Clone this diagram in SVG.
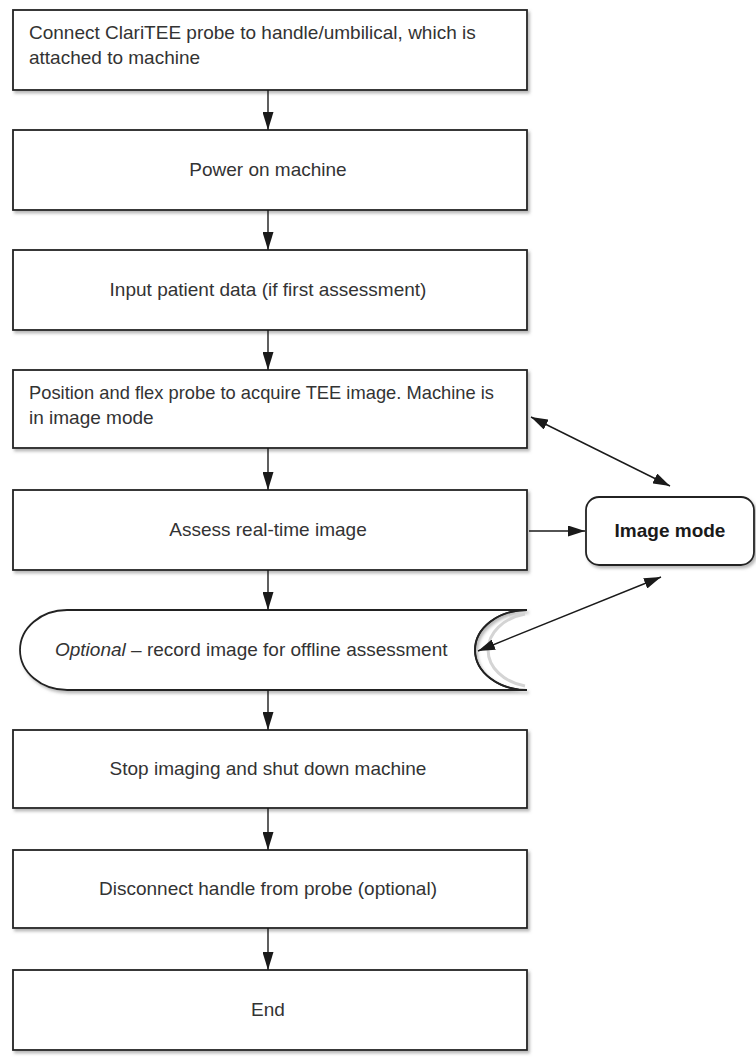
<svg xmlns="http://www.w3.org/2000/svg" width="756" height="1063" viewBox="0 0 756 1063">
<defs>
<filter id="sh" x="-5%" y="-5%" width="110%" height="120%">
<feDropShadow dx="2" dy="2.5" stdDeviation="1.5" flood-color="#888" flood-opacity="0.6"/>
</filter>
<marker id="ah" viewBox="0 0 17 11" refX="17" refY="5.5" markerWidth="17" markerHeight="11" markerUnits="userSpaceOnUse" orient="auto-start-reverse">
<path d="M0,0 L17,5.5 L0,11 Z" fill="#1a1a1a"/>
</marker>
<marker id="av" viewBox="0 0 11 18" refX="5.5" refY="18" markerWidth="11" markerHeight="18" markerUnits="userSpaceOnUse" orient="0">
<path d="M0,0 L11,0 L5.5,18 Z" fill="#1a1a1a"/>
</marker>
</defs>
<style>
.box{fill:#fff;stroke:#222;stroke-width:1.8;filter:url(#sh)}
.t{font-family:"Liberation Sans",Arial,sans-serif;font-size:19px;fill:#333}
.c{text-anchor:middle}
.b{font-weight:bold;fill:#1a1a1a}
.ln{stroke:#1a1a1a;stroke-width:1.4;fill:none}
</style>
<rect width="756" height="1063" fill="#fff"/>
<g id="n1"><rect class="box" x="13" y="10" width="514" height="80"/>
<text class="t" x="29" y="39">Connect ClariTEE probe to handle/umbilical, which is</text>
<text class="t" x="29" y="64">attached to machine</text></g>
<g id="n2"><rect class="box" x="13" y="130" width="514" height="80"/>
<text class="t c" x="268" y="176">Power on machine</text></g>
<g id="n3"><rect class="box" x="13" y="250" width="514" height="80"/>
<text class="t c" x="268" y="296">Input patient data (if first assessment)</text></g>
<g id="n4"><rect class="box" x="13" y="370" width="514" height="78"/>
<text class="t" x="29" y="399" textLength="465" lengthAdjust="spacingAndGlyphs">Position and flex probe to acquire TEE image. Machine is</text>
<text class="t" x="29" y="424">in image mode</text></g>
<g id="n5"><rect class="box" x="13" y="490" width="514" height="80"/>
<text class="t c" x="268" y="536">Assess real-time image</text></g>
<g id="n6"><path class="box" d="M67,610 H527 A52,40 0 0 0 527,690 H67 A47,40 0 0 1 67,610 Z"/>
<path d="M522,614 A48,37 0 0 0 522,686" fill="none" stroke="#d4d4d4" stroke-width="3" transform="translate(3,0)"/>
<path d="M527,610 A52,40 0 0 0 527,690" fill="none" stroke="#222" stroke-width="1.8"/>
<text class="t" x="55" y="656"><tspan font-style="italic">Optional</tspan>  – record image for offline assessment</text></g>
<g id="n7"><rect class="box" x="13" y="730" width="514" height="78"/>
<text class="t c" x="268" y="775">Stop imaging and shut down machine</text></g>
<g id="n8"><rect class="box" x="13" y="850" width="514" height="78"/>
<text class="t c" x="268" y="895">Disconnect handle from probe (optional)</text></g>
<g id="n9"><rect class="box" x="13" y="970" width="514" height="80"/>
<text class="t c" x="268" y="1016">End</text></g>
<g id="n10"><rect class="box" x="586" y="497" width="168" height="68" rx="13" ry="13"/>
<text class="t c b" x="670" y="537">Image mode</text></g>
<g id="edges">
<line class="ln" x1="268" y1="90" x2="268" y2="130" marker-end="url(#av)"/>
<line class="ln" x1="268" y1="210" x2="268" y2="250" marker-end="url(#av)"/>
<line class="ln" x1="268" y1="330" x2="268" y2="370" marker-end="url(#av)"/>
<line class="ln" x1="268" y1="448" x2="268" y2="490" marker-end="url(#av)"/>
<line class="ln" x1="268" y1="570" x2="268" y2="610" marker-end="url(#av)"/>
<line class="ln" x1="268" y1="690" x2="268" y2="730" marker-end="url(#av)"/>
<line class="ln" x1="268" y1="808" x2="268" y2="850" marker-end="url(#av)"/>
<line class="ln" x1="268" y1="928" x2="268" y2="970" marker-end="url(#av)"/>
<line class="ln" x1="529" y1="531" x2="585" y2="531" marker-end="url(#ah)"/>
<line class="ln" x1="531" y1="417" x2="670" y2="486" marker-start="url(#ah)" marker-end="url(#ah)"/>
<line class="ln" x1="478" y1="651" x2="661" y2="577" marker-start="url(#ah)" marker-end="url(#ah)"/>
</g>
</svg>
